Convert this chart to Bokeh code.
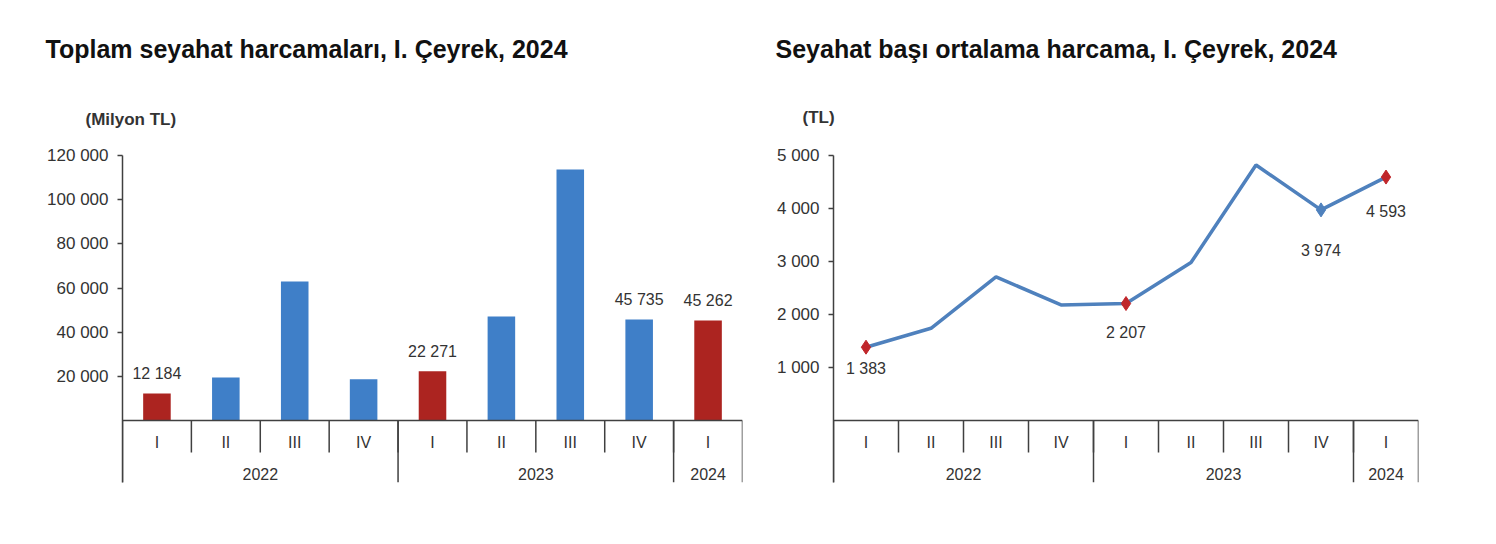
from bokeh.plotting import figure
from bokeh.layouts import row, column
from bokeh.models import Range1d, FixedTicker, ColumnDataSource
from bokeh.core.properties import value
from bokeh.embed import file_html
from bokeh.resources import INLINE

# ---------------- data ----------------
quarters = ["I", "II", "III", "IV", "I", "II", "III", "IV", "I"]
year_groups = ["2022", "2023", "2024"]
year_sizes = [4, 4, 1]
total_spend = [12184, 19500, 63000, 18700, 22271, 47100, 113700, 45735, 45262]
avg_spend = [1383, 1740, 2710, 2180, 2207, 2980, 4820, 3974, 4593]
total_ticks = [20000, 40000, 60000, 80000, 100000, 120000]
avg_ticks = [1000, 2000, 3000, 4000, 5000]
title_left = "Toplam seyahat harcamaları, I. Çeyrek, 2024"
title_right = "Seyahat başı ortalama harcama, I. Çeyrek, 2024"
unit_left = "(Milyon TL)"
unit_right = "(TL)"
highlight_bars = [0, 4, 8]
labelled_bars = [0, 4, 7, 8]
labelled_points = [0, 4, 7, 8]
red_points = [0, 4, 8]

# ---------------- style ----------------
FONT = "Liberation Sans"
TXT = "#333333"
AX = "#404040"
BLUE = "#3f7fc8"
RED = "#ac2420"
LINE = "#4f81bd"
MRED = "#c0262b"
W = 748
HEAD_H = 135
H = 544 - HEAD_H
TOP, BOTTOM = 155 - HEAD_H, 482 - HEAD_H
ZERO = 420 - HEAD_H


def fmt(v):
    return f"{v:,}".replace(",", " ")


def make_fig(left, right, ymax):
    per_px = ymax / (ZERO - TOP)
    ystart = -(BOTTOM - ZERO) * per_px
    p = figure(width=W, height=H, output_backend="svg", toolbar_location=None,
               x_range=Range1d(0, 9), y_range=Range1d(ystart, ymax),
               x_axis_location=None, min_border_left=left, min_border_right=right,
               min_border_top=TOP, min_border_bottom=H - BOTTOM)
    p.outline_line_color = None
    p.grid.visible = False
    p.background_fill_color = "white"
    p.border_fill_color = "white"
    ax = p.yaxis[0]
    ax.axis_line_color = AX
    ax.axis_line_width = 1.5
    ax.major_tick_line_color = AX
    ax.major_tick_line_width = 1.5
    ax.major_tick_out = 5
    ax.major_tick_in = 0
    ax.minor_tick_line_color = None
    ax.major_label_text_font = FONT
    ax.major_label_text_font_size = "17px"
    ax.major_label_text_color = TXT
    ax.major_label_standoff = 9
    return p, per_px, ystart


def add_category_axis(p, per_px, ystart):
    n = len(quarters)
    p.segment(x0=[-0.13], x1=[n], y0=[0], y1=[0], line_color=AX, line_width=1.5)
    qy = -32 * per_px
    xs = list(range(1, n))
    p.segment(x0=xs, x1=xs, y0=[0] * len(xs), y1=[qy] * len(xs), line_color=AX, line_width=1.5)
    bounds = [0]
    for s in year_sizes:
        bounds.append(bounds[-1] + s)
    p.segment(x0=bounds, x1=bounds, y0=[0] * len(bounds), y1=[ystart] * len(bounds),
              line_color=AX, line_width=1.5)
    centers = [i + 0.5 for i in range(n)]
    p.text(x=centers, y=[0] * n, text=quarters, y_offset=22, text_align="center",
           text_baseline="middle", text_font=value(FONT), text_font_size="16px", text_color=TXT)
    ycent = [(bounds[i] + bounds[i + 1]) / 2 for i in range(len(year_groups))]
    p.text(x=ycent, y=[0] * len(ycent), text=year_groups, y_offset=53, text_align="center",
           text_baseline="middle", text_font=value(FONT), text_font_size="16px", text_color=TXT)


# ---------- header (titles and unit labels) ----------
head = figure(width=2 * W, height=HEAD_H, output_backend="svg", toolbar_location=None,
              x_range=Range1d(0, 2 * W), y_range=Range1d(HEAD_H, 0),
              x_axis_location=None, y_axis_location=None,
              min_border_left=0, min_border_right=0, min_border_top=0, min_border_bottom=0)
head.outline_line_color = None
head.grid.visible = False
head.text(x=[45, 775], y=[48, 48], text=[title_left, title_right], text_align="left",
          text_baseline="middle", text_font=value(FONT), text_font_size="25px",
          text_font_style="bold", text_color="#111111")
head.text(x=[85, 802], y=[119, 117], text=[unit_left, unit_right], text_align="left",
          text_baseline="middle", text_font=value(FONT), text_font_size="17px",
          text_font_style="bold", text_color=TXT)

# ---------- left chart ----------
pl, ppl, ysl = make_fig(122, 6, 120000)
pl.yaxis.ticker = FixedTicker(ticks=total_ticks)
pl.yaxis.major_label_overrides = {t: fmt(t) for t in total_ticks}
colors = [RED if i in highlight_bars else BLUE for i in range(len(total_spend))]
src = ColumnDataSource(dict(x=[i + 0.5 for i in range(len(total_spend))], top=total_spend, color=colors))
pl.vbar(x="x", top="top", width=0.4, bottom=0, fill_color="color", line_color=None, source=src)
add_category_axis(pl, ppl, ysl)
pl.text(x=[i + 0.5 for i in labelled_bars], y=[total_spend[i] for i in labelled_bars],
        text=[fmt(total_spend[i]) for i in labelled_bars], y_offset=-20, text_align="center",
        text_baseline="middle", text_font=value(FONT), text_font_size="16px", text_color=TXT)

# ---------- right chart ----------
pr, ppr, ysr = make_fig(85, 78, 5000)
pr.yaxis.ticker = FixedTicker(ticks=avg_ticks)
pr.yaxis.major_label_overrides = {t: fmt(t) for t in avg_ticks}
xs = [i + 0.5 for i in range(len(avg_spend))]
pr.line(x=xs, y=avg_spend, line_color=LINE, line_width=3.5)
mcol = [MRED if i in red_points else LINE for i in labelled_points]
pr.scatter(x=[xs[i] for i in labelled_points], y=[avg_spend[i] for i in labelled_points],
           marker="diamond", size=14, fill_color=mcol, line_color=mcol)
add_category_axis(pr, ppr, ysr)
label_dy = [21, 29, 41, 34]
for k, i in enumerate(labelled_points):
    pr.text(x=[xs[i]], y=[avg_spend[i]], text=[fmt(avg_spend[i])], y_offset=label_dy[k],
            text_align="center", text_baseline="middle", text_font=value(FONT),
            text_font_size="16px", text_color=TXT)

layout = column(head, row(pl, pr, spacing=0), spacing=0)
open("out.html", "w").write(file_html(layout, INLINE))
